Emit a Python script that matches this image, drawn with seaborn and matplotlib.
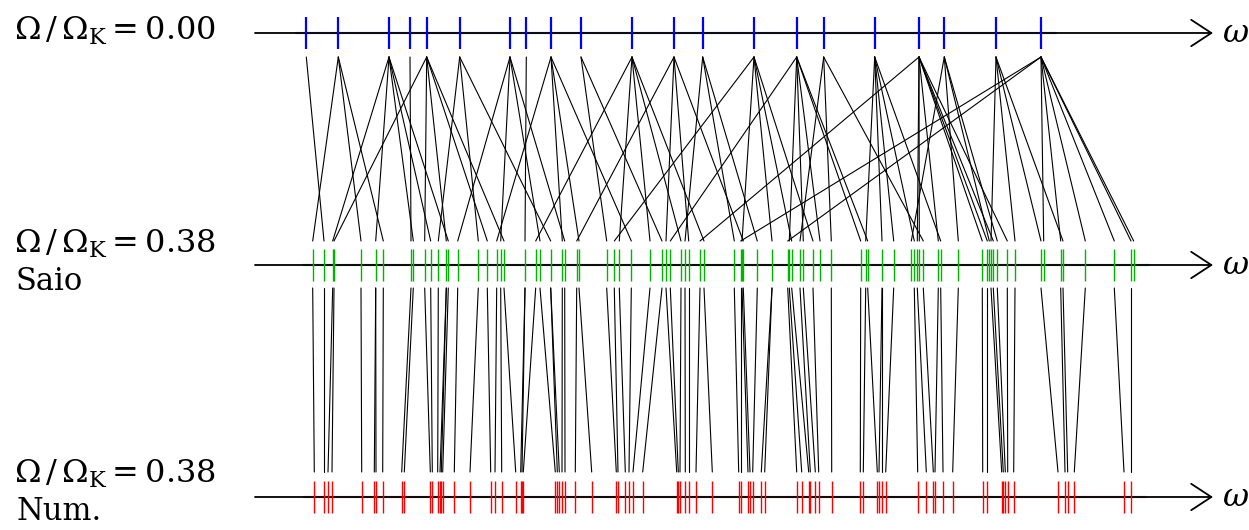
import numpy as np
import pandas as pd
import matplotlib
matplotlib.use("Agg")
import matplotlib.pyplot as plt
import seaborn as sns

# mode frequencies (arbitrary omega units)
top_x = [306.3, 338.3, 389, 410, 426.7, 459.7, 510, 526.3, 551, 581, 632, 674,
         702.7, 754, 796.7, 823.7, 874.7, 919, 944.3, 996, 1041]

saio_x = [312.7, 324, 332.7, 334, 361, 375.7, 383.3, 411, 413.3, 424.7, 430.7,
          438.3, 446.3, 448.3, 457.7, 478.3, 487.3, 496.7, 500.7, 504, 525,
          535.7, 540, 550.7, 562.3, 564.7, 576.7, 579, 606.7, 614.3, 619.3,
          631.3, 650, 662, 666, 670.3, 681, 685, 688.7, 700, 704, 734.3, 740.7,
          742, 743.3, 757.3, 772, 787.7, 789.3, 791.7, 800, 803.3, 813, 820,
          831.3, 860.7, 865.7, 867.7, 882, 893.7, 911.3, 914.3, 917.3, 919.3,
          923.3, 938.3, 940.7, 958.3, 982.3, 987.3, 989.3, 991, 993.3, 997.3,
          1007.3, 1015, 1041, 1043.7, 1060.7, 1063, 1085.3, 1114.3, 1131, 1133.7]

# index of the non-rotating mode each Saio mode comes from
saio_src = [1, 0, 2, 4, 1, 2, 1, 3, 2, 4, 2, 5, 4, 2, 6, 5, 4, 8, 6, 4, 7,
            10, 6, 5, 8, 6, 11, 8, 9, 13, 10, 8, 10, 9, 11, 14, 10, 12, 11, 17,
            10, 12, 20, 13, 11, 12, 13, 20, 14, 13, 15, 14, 13, 14, 15, 14, 16,
            14, 16, 16, 18, 16, 17, 17, 15, 17, 16, 18, 17, 17, 18, 19, 17, 18,
            17, 19, 19, 20, 20, 19, 20, 20, 20, 20]

num_x = [314.3, 324, 328, 332, 361.7, 374.3, 376, 382.7, 401.7, 404.3, 430.3,
         432.3, 437.7, 440, 441.3, 442.7, 454.3, 470, 490.7, 495, 501.7, 515.7,
         520.7, 522, 523.3, 555.3, 557.3, 559.3, 562, 565, 575.3, 591.7, 616.3,
         618, 625.3, 629, 633, 642.7, 676.7, 678.3, 680, 685.3, 688.7, 696,
         712.3, 738.7, 740.7, 748, 750, 752.7, 761.3, 764.7, 796.7, 801.7,
         808.7, 810.3, 815.3, 818.7, 831.7, 860.3, 863.3, 877.3, 879, 882,
         885.7, 917.7, 926.3, 933.3, 935, 943, 952.7, 982.7, 987.3, 1001.7,
         1003.3, 1005.3, 1007.7, 1013.7, 1058, 1065, 1067.7, 1074.3, 1124, 1131]

# index of the Saio mode each numerical mode is matched to
num_src = [0, 1, 2, 3, 4, 5, 5, 6, 7, 8, 9, 10, 11, 12, 12, 13, 14, 15, 16, 17,
           18, 19, 20, 20, 21, 22, 23, 23, 24, 25, 26, 27, 28, 29, 30, 31, 32,
           33, 34, 35, 36, 37, 38, 39, 40, 41, 42, 43, 44, 45, 46, 46, 47, 48,
           49, 50, 51, 52, 54, 55, 56, 57, 58, 58, 59, 61, 62, 64, 65, 66, 67,
           68, 69, 71, 72, 73, 74, 75, 76, 78, 79, 80, 81, 82]

rot_labels = [r"$\Omega\,/\,\Omega_{\mathrm{K}}{=}0.00$",
              r"$\Omega\,/\,\Omega_{\mathrm{K}}{=}0.38$",
              r"$\Omega\,/\,\Omega_{\mathrm{K}}{=}0.38$"]
src_labels = ["", "Saio", "Num."]

sns.set_style("white")
plt.rcParams["font.family"] = ["DejaVu Serif"]
plt.rcParams["mathtext.fontset"] = "dejavuserif"

fig = plt.figure(figsize=(12.49, 5.30), dpi=100)
ax = fig.add_axes([0, 0, 1, 1])

rows_y = [33, 265, 497]
label_y = [31, 244, 474]
tick_cols = ["#0000ff", "#00b400", "#ff0000"]
tick_lw = [1.6, 1.0, 1.0]
axis_tint = ["#0000aa", "#005500", "#880000"]
row_sets = [top_x, saio_x, num_x]

# connecting lines
segs = []
for i, g in enumerate(saio_src):
    segs.append((i, top_x[g], 57))
    segs.append((i, saio_x[i], 241))
k = len(saio_src)
for i, g in enumerate(num_src):
    segs.append((k + i, saio_x[g], 288))
    segs.append((k + i, num_x[i], 472))
seg_df = pd.DataFrame(segs, columns=["seg", "x", "y"])
sns.lineplot(data=seg_df, x="x", y="y", units="seg", estimator=None, sort=False,
             color="black", lw=0.8, legend=False, ax=ax)

for y, ly, xs, col, lw, tint, lab, sub in zip(rows_y, label_y, row_sets, tick_cols,
                                             tick_lw, axis_tint, rot_labels, src_labels):
    ax.annotate("", xy=(1213, y), xytext=(255, y),
                arrowprops=dict(arrowstyle="->,head_length=1.45,head_width=0.95",
                                lw=1.3, color="black", shrinkA=0, shrinkB=0))
    ax.plot([min(xs) - 10, max(xs) + 15], [y, y], color=tint, lw=1.6, alpha=0.5)
    sns.scatterplot(x=xs, y=[y] * len(xs), marker="|", s=500, color=col,
                    linewidth=lw, ax=ax, legend=False, zorder=3)
    ax.text(1222, y + 1, r"$\omega$", fontsize=23, va="center", ha="left", color="black")
    ax.text(14, ly, lab, fontsize=23, va="center", ha="left", color="black")
    if sub:
        ax.text(16, ly + 38, sub, fontsize=22, va="center", ha="left", color="black")

ax.set_xlim(0, 1249)
ax.set_ylim(530, 0)
ax.axis("off")
fig.savefig("out.png", dpi=100)
